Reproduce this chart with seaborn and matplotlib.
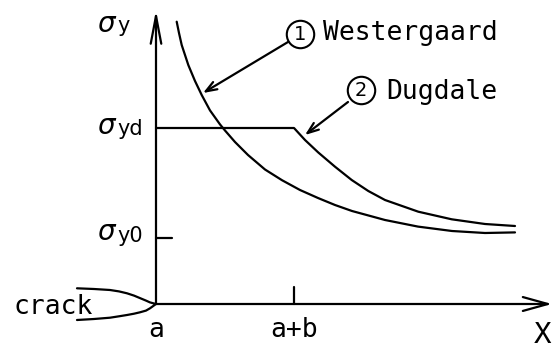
import numpy as np
import pandas as pd
import matplotlib
matplotlib.use("Agg")
import matplotlib.pyplot as plt
import seaborn as sns

# Stress ahead of a crack tip: distance x measured from the tip (a),
# stress sigma_y measured from the x axis.
A_POS = 0.0
A_PLUS_B = 138.0
SIGMA_YD = 176.0
SIGMA_Y0 = 66.0
X_END = 396.0
Y_END = 294.0

westergaard_x = [20.7, 23, 25.7, 32.3, 39, 45.7, 54, 64, 69, 79, 92, 109, 126, 144, 162, 179, 196, 229, 262, 296, 329, 359]
westergaard_y = [282.3, 271, 259, 239, 223, 209, 193.6, 179.6, 173.5, 162, 149, 134.5, 123.8, 114, 106, 99, 93, 84, 77.4, 73, 71, 71.6]

dugdale_x = [0, 138, 149, 162.3, 179, 195.7, 212.3, 229, 262.3, 295.7, 329, 359]
dugdale_y = [176, 176, 164, 151.5, 137.3, 124, 113, 104, 92.3, 84.7, 80, 78]

crack_x = [-79, -62, -46, -37, -29, -22, -16, -10, -6, 0, -6, -10, -16, -22, -29, -37, -46, -62, -79]
crack_y = [15.7, 15, 14, 12.6, 10.7, 8.4, 5.9, 3.4, 1.6, 0, -4.3, -6.6, -8.3, -9.7, -11, -12.3, -13.7, -15, -16]

curve_labels = ["Westergaard", "Dugdale"]
curve_numbers = ["1", "2"]

sns.set_theme(style="white")
plt.rcParams["font.family"] = ["DejaVu Sans Mono", "DejaVu Sans"]
plt.rcParams["mathtext.fontset"] = "dejavusans"
plt.rcParams["text.color"] = "black"

fig = plt.figure(figsize=(5.52, 3.49), dpi=100)
ax = fig.add_axes([0, 0, 1, 1])
ax.set_xlim(-156, 396)
ax.set_ylim(-45, 304)
ax.axis("off")

lw = 1.6
ink = "black"

west = pd.DataFrame({"x": westergaard_x, "y": westergaard_y})
dug = pd.DataFrame({"x": dugdale_x, "y": dugdale_y})
crack = pd.DataFrame({"x": crack_x, "y": crack_y})

for frame in (west, dug, crack):
    sns.lineplot(data=frame, x="x", y="y", ax=ax, color=ink, lw=lw,
                 sort=False, estimator=None)
for line in ax.lines:
    line.set_solid_joinstyle("round")
    line.set_solid_capstyle("round")

# Axes with open arrow heads
ax.annotate("", xy=(A_POS, Y_END), xytext=(A_POS, 0),
            arrowprops=dict(arrowstyle="->,head_length=20,head_width=3.8",
                            lw=lw, color=ink, mutation_scale=1, shrinkA=0, shrinkB=0))
ax.annotate("", xy=(X_END, 0), xytext=(A_POS, 0),
            arrowprops=dict(arrowstyle="->,head_length=18,head_width=5",
                            lw=lw, color=ink, mutation_scale=1, shrinkA=0, shrinkB=0))

# Tick marks for sigma_y0 and a+b
ax.plot([A_POS, A_POS + 16], [SIGMA_Y0, SIGMA_Y0], color=ink, lw=lw)
ax.plot([A_PLUS_B, A_PLUS_B], [0, 17], color=ink, lw=lw)

# Stress labels: large sigma with a subscript
fs = 19
sigma_rows = [("y", 280, 272), ("yd", 178.5, 169), ("y0", 71.5, 62)]
for sub, yc, yb in sigma_rows:
    ax.text(-59, yc, r"$\sigma$", fontsize=20, ha="left", va="center", color=ink)
    ax.text(-39, yb, sub, fontsize=15, ha="left", va="baseline", color=ink,
            family="DejaVu Sans")

ax.text(A_POS, -26, "a", fontsize=fs, ha="center", va="center")
ax.text(A_PLUS_B, -26, "a+b", fontsize=fs, ha="center", va="center")
ax.text(-143, -3, "crack", fontsize=fs, ha="left", va="center")
ax.text(387, -31, "X", fontsize=21, ha="center", va="center")

# Curve call-outs: circled number, name and leader arrow
circle_pos = [(144, 270), (205, 214)]
text_pos = [(167, 271), (230, 212)]
leader_from = [(132, 262), (192, 202)]
leader_to = [(47, 211), (149, 169)]
for num, name, cp, tp, lf, lt in zip(curve_numbers, curve_labels, circle_pos,
                                     text_pos, leader_from, leader_to):
    ax.annotate("", xy=lt, xytext=lf,
                arrowprops=dict(arrowstyle="->,head_length=8,head_width=3",
                                lw=lw, color=ink, mutation_scale=1, shrinkA=0, shrinkB=0))
    ax.scatter([cp[0]], [cp[1]], s=390, facecolor="white", edgecolor=ink,
               linewidth=1.5, zorder=5)
    ax.text(cp[0], cp[1], num, fontsize=14, ha="center", va="center", zorder=6,
            family="DejaVu Sans")
    ax.text(tp[0], tp[1], name, fontsize=fs, ha="left", va="center")

fig.savefig("out.png", dpi=100, facecolor="white")
